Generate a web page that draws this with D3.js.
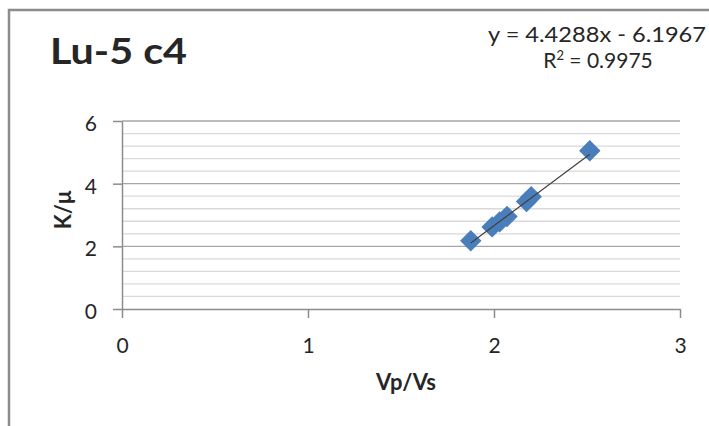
<!DOCTYPE html>
<html>
<head>
<meta charset="utf-8">
<script src="https://cdn.jsdelivr.net/npm/d3@7"></script>
<style>
  body { margin: 0; background: #fff; }
  text { font-family: Lato, "Open Sans", sans-serif; fill: #262626; }
</style>
</head>
<body>
<div id="chart"></div>
<script>
// Data
const vpVs = [1.875, 1.99, 2.03, 2.07, 2.175, 2.20, 2.515];
const kMu  = [2.18, 2.62, 2.78, 2.95, 3.43, 3.58, 5.05];
const slope = 4.4288, intercept = -6.1967, r2 = 0.9975;
const xTicks = [0, 1, 2, 3];
const yTicks = [0, 2, 4, 6];

const W = 709, H = 426;
const margin = { top: 121, right: 29, bottom: 117, left: 122 };
const width = W - margin.left - margin.right;
const height = H - margin.top - margin.bottom;

const svg = d3.select("#chart").append("svg")
    .attr("width", W).attr("height", H);

// chart frame
svg.append("path")
    .attr("d", `M9,${H} V10 H${W}`)
    .attr("fill", "none").attr("stroke", "#8c8c8c").attr("stroke-width", 2.5);

const g = svg.append("g").attr("transform", `translate(${margin.left},${margin.top})`);

const x = d3.scaleLinear().domain([0, 3]).range([0, width]);
const y = d3.scaleLinear().domain([0, 6]).range([height, 0]);

// minor gridlines
g.append("g").selectAll("line")
    .data(d3.range(0, 6.01, 0.4).filter(v => Math.abs(v % 2) > 0.01 && Math.abs(v % 2 - 2) > 0.01))
    .join("line")
    .attr("x1", 0).attr("x2", width)
    .attr("y1", d => y(d)).attr("y2", d => y(d))
    .attr("stroke", "#d9d9d9").attr("stroke-width", 1.3);

// major gridlines
g.append("g").selectAll("line")
    .data(yTicks.slice(1))
    .join("line")
    .attr("x1", 0).attr("x2", width)
    .attr("y1", d => y(d)).attr("y2", d => y(d))
    .attr("stroke", "#a6a6a6").attr("stroke-width", 1.3);

// axes
const xAxis = g.append("g")
    .attr("transform", `translate(0,${height})`)
    .call(d3.axisBottom(x).tickValues(xTicks).tickFormat(d3.format("d")).tickSize(9).tickSizeOuter(0));
const yAxis = g.append("g")
    .call(d3.axisLeft(y).tickValues(yTicks).tickFormat(d3.format("d")).tickSize(9).tickSizeOuter(0));

[xAxis, yAxis].forEach(a => {
    a.select(".domain").attr("stroke", "#8c8c8c").attr("stroke-width", 1.5);
    a.selectAll(".tick line").attr("stroke", "#8c8c8c").attr("stroke-width", 1.5);
    a.selectAll(".tick text").style("font-size", "21px").attr("fill", "#262626");
});
xAxis.selectAll(".tick text").attr("dy", null).attr("y", 44);
yAxis.selectAll(".tick text").attr("x", -25).attr("dy", "0.45em");

// trendline
const xMin = d3.min(vpVs), xMax = d3.max(vpVs);
const trend = () => g.append("line")
    .attr("x1", x(xMin)).attr("y1", y(slope * xMin + intercept))
    .attr("x2", x(xMax)).attr("y2", y(slope * xMax + intercept))
    .attr("stroke", "#404040").attr("stroke-width", 1.2);

// diamond markers
const diamond = d3.symbol().type(d3.symbolSquare).size(200);
g.append("g").selectAll("path")
    .data(vpVs.map((v, i) => [v, kMu[i]]))
    .join("path")
    .attr("d", diamond)
    .attr("transform", d => `translate(${x(d[0])},${y(d[1])}) rotate(45)`)
    .attr("fill", "#4a7ebb").attr("stroke", "#4a7ebb").attr("stroke-width", 1);

trend();

// titles
svg.append("text").attr("x", 50).attr("y", 64)
    .attr("textLength", 137).attr("lengthAdjust", "spacingAndGlyphs")
    .style("font-size", "36px").style("font-weight", "bold")
    .attr("fill", "#000").text("Lu-5 c4");

svg.append("text").attr("x", 488).attr("y", 42)
    .attr("textLength", 218).attr("lengthAdjust", "spacingAndGlyphs")
    .style("font-size", "21px").text(`y = ${slope}x - ${Math.abs(intercept)}`);
const r2t = svg.append("text").attr("x", 598).attr("y", 68).attr("text-anchor", "middle")
    .style("font-size", "21px");
r2t.append("tspan").text("R");
r2t.append("tspan").attr("dy", -8).style("font-size", "13px").text("2");
r2t.append("tspan").attr("dy", 8).text(` = ${r2}`);

svg.append("text").attr("x", 406).attr("y", 390)
    .attr("text-anchor", "middle")
    .style("font-size", "22px").style("font-weight", "bold").text("Vp/Vs");

svg.append("text")
    .attr("transform", `translate(71,210) rotate(-90)`)
    .attr("text-anchor", "middle")
    .style("font-size", "22px").style("font-weight", "bold").text("K/μ");
</script>
</body>
</html>
